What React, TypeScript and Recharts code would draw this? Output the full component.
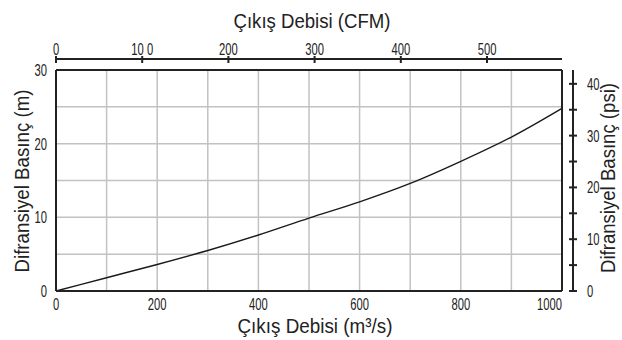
import React from 'react';
import { ComposedChart, Line, XAxis, YAxis, CartesianGrid } from 'recharts';

const FONT = '"Liberation Sans", Arial, Helvetica, sans-serif';
const INK = '#222222';

// Flow (m³/h) vs differential pressure (m)
const flowM3h = [0, 100, 200, 300, 400, 500, 600, 700, 800, 900, 1000];
const pressureM = [0, 1.8, 3.6, 5.5, 7.6, 9.9, 12.1, 14.6, 17.6, 20.9, 24.8];

const FLOW_MAX = 1000;
const flowTicks = [0, 100, 200, 300, 400, 500, 600, 700, 800, 900, 1000];
const flowLabelStep = 200;
const pressureMTicks = [0, 5, 10, 15, 20, 25, 30];
const pressureLabelStep = 10;
const cfmTicks = [0, 100, 200, 300, 400, 500];
const cfmTickLabels = ['0', '10 0', '200', '300', '400', '500'];
const CFM_AT_FLOW_MAX = 587;
const psiTicks = [0, 5, 10, 15, 20, 25, 30, 35, 40];
const psiLabelStep = 10;
const PSI_MAX = 42.67;

const topTitle = 'Çıkış Debisi (CFM)';
const bottomTitle = 'Çıkış Debisi (m³/s)';
const leftTitle = 'Difransiyel Basınç (m)';
const rightTitle = 'Difransiyel Basınç (psi)';

const data = flowM3h.map((f, i) => ({ flow: f, head: pressureM[i] }));
// CFM ticks expressed on the flow scale (secondary unit axis)
const cfmTickPositions = cfmTicks.map((c) => (c * FLOW_MAX) / CFM_AT_FLOW_MAX);

const TICK_FS = 17;
const TICK_SX = 0.66;

const CText = ({ x, y, anchor, dy, children }: any) => (
  <text
    transform={`translate(${x},${y}) scale(${TICK_SX},1)`}
    x={0}
    y={0}
    dy={dy}
    textAnchor={anchor}
    fontFamily={FONT}
    fontSize={TICK_FS}
    fill={INK}
  >
    {children}
  </text>
);

const BottomTick = (p: any) => {
  const v = p.payload.value;
  if (v % flowLabelStep !== 0) return <g />;
  const last = v === flowTicks[flowTicks.length - 1];
  return (
    <CText x={p.x} y={p.y} dy="0.71em" anchor={last ? 'end' : 'middle'}>
      {v}
    </CText>
  );
};

const LeftTick = (p: any) => {
  const v = p.payload.value;
  if (v % pressureLabelStep !== 0) return <g />;
  return (
    <CText x={p.x} y={p.y} dy="0.355em" anchor="end">
      {v}
    </CText>
  );
};

const TopTick = (p: any) => {
  const i = p.index;
  return (
    <g>
      <line x1={p.x} x2={p.x} y1={p.y - 3} y2={p.y + 4} stroke={INK} strokeWidth={2} />
      <CText x={p.x} y={p.y - 4} anchor="middle">
        {cfmTickLabels[i]}
      </CText>
    </g>
  );
};

const RightTick = (p: any) => {
  const v = p.payload.value;
  return (
    <g>
      <line x1={p.x - 4} x2={p.x + 4} y1={p.y} y2={p.y} stroke={INK} strokeWidth={2} />
      {v % psiLabelStep === 0 ? (
        <CText x={p.x + 14} y={p.y} dy="0.355em" anchor="start">
          {v}
        </CText>
      ) : null}
    </g>
  );
};

const titleProps = { fontFamily: FONT, fontSize: 21, fill: INK, lengthAdjust: 'spacingAndGlyphs' as const };

const TopTitle = () => (
  <text x={312} y={28} textAnchor="middle" textLength={157} {...titleProps}>
    {topTitle}
  </text>
);
const BottomTitle = () => (
  <text x={315} y={333} textAnchor="middle" textLength={155} {...titleProps}>
    {bottomTitle}
  </text>
);
const LeftTitle = () => (
  <text x={29} y={181} textAnchor="middle" textLength={183} transform="rotate(-90, 29, 181)" {...titleProps}>
    {leftTitle}
  </text>
);
const RightTitle = () => (
  <text x={615} y={178} textAnchor="middle" textLength={190} transform="rotate(-90, 615, 178)" {...titleProps}>
    {rightTitle}
  </text>
);

const axisLine = { stroke: INK, strokeWidth: 2 };

export default function App() {
  return (
    <div style={{ position: 'absolute', left: 0, top: 0, width: 622, height: 340, background: '#fff' }}>
      <ComposedChart width={622} height={340} data={data} margin={{ top: 0, right: 0, bottom: 0, left: 0 }}>
        <CartesianGrid xAxisId="bottom" yAxisId="m" stroke="#c2c2c2" strokeWidth={1.5} />
        <XAxis
          xAxisId="bottom"
          dataKey="flow"
          type="number"
          orientation="bottom"
          domain={[0, FLOW_MAX]}
          ticks={flowTicks}
          interval={0}
          height={49}
          axisLine={axisLine}
          tickLine={false}
          tickSize={0}
          tickMargin={7}
          tick={BottomTick}
          label={BottomTitle}
        />
        <XAxis
          xAxisId="cfm"
          dataKey="flow"
          type="number"
          orientation="top"
          domain={[0, FLOW_MAX]}
          ticks={cfmTickPositions}
          interval={0}
          height={59}
          axisLine={axisLine}
          tickLine={false}
          tickSize={0}
          tickMargin={0}
          tick={TopTick}
          label={TopTitle}
        />
        <XAxis
          xAxisId="aTop"
          dataKey="flow"
          type="number"
          orientation="top"
          domain={[0, FLOW_MAX]}
          height={11}
          axisLine={axisLine}
          tickLine={false}
          tick={false}
        />
        <YAxis
          yAxisId="m"
          type="number"
          orientation="left"
          domain={[0, 30]}
          ticks={pressureMTicks}
          interval={0}
          width={56}
          axisLine={axisLine}
          tickLine={false}
          tickSize={0}
          tickMargin={9}
          tick={LeftTick}
          label={LeftTitle}
        />
        <YAxis
          yAxisId="psi"
          type="number"
          orientation="right"
          domain={[0, PSI_MAX]}
          allowDataOverflow
          ticks={psiTicks}
          interval={0}
          width={49}
          axisLine={axisLine}
          tickLine={false}
          tickSize={0}
          tickMargin={0}
          tick={RightTick}
          label={RightTitle}
        />
        <YAxis
          yAxisId="aRight"
          type="number"
          orientation="right"
          domain={[0, 1]}
          allowDataOverflow
          width={11}
          axisLine={axisLine}
          tickLine={false}
          tick={false}
        />
        <Line
          xAxisId="bottom"
          yAxisId="m"
          dataKey="head"
          type="monotone"
          stroke="#1a1a1a"
          strokeWidth={1.4}
          dot={false}
          isAnimationActive={false}
        />
      </ComposedChart>
    </div>
  );
}
